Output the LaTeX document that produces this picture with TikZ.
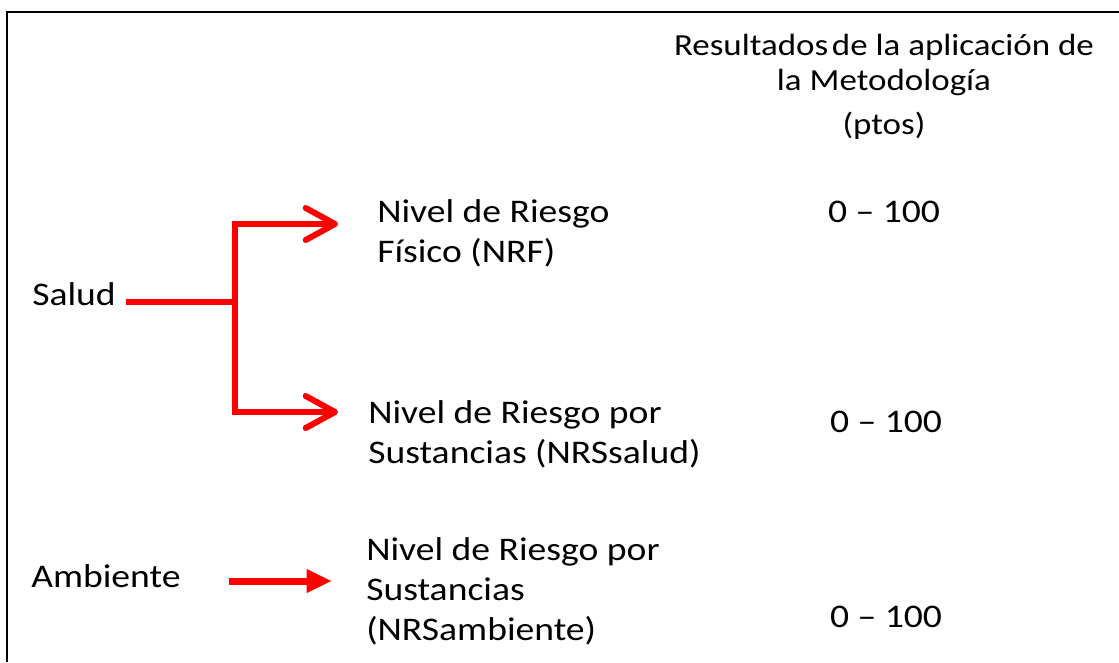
\documentclass[tikz,border=0pt]{standalone}
\usepackage{fontspec}
\setmainfont{Carlito}[FakeStretch=1.14]
\usetikzlibrary{arrows.meta}
\definecolor{arrowred}{RGB}{255,0,0}
\tikzset{
  frameline/.style={line width=2pt,black},
  lbl/.style={anchor=base west,inner sep=0pt,font=\fontsize{24.75}{30}\selectfont,align=left},
  score/.style={anchor=base,inner sep=0pt,font=\fontsize{24.75}{30}\selectfont},
  branch/.style={draw=arrowred,line width=4.5pt},
  barb/.style={-{Straight Barb[length=22pt,width=24pt,round]}},
  oneway/.style={draw=arrowred,line width=5.25pt,-{Triangle[length=19pt,width=16.5pt]}}
}
\begin{document}
\begin{tikzpicture}[x=0.75pt,y=-0.75pt]
  \useasboundingbox (0,0) rectangle (1119,662);
  \draw[frameline] (7,662) -- (7,12) -- (1119,12);
  % column header (base = last line)
  \node[anchor=base,inner sep=0pt,align=center,font=\fontsize{23}{26.5}\selectfont] (head) at (884,134)
    {Resultados\hspace{0.12em}de la aplicación de\\la Metodología\\[6pt](ptos)};
  % left side
  \node[lbl] (salud) at (32,305) {Salud};
  \node[lbl] (ambiente) at (31,587) {Ambiente};
  % risk levels
  \node[lbl] (nrf) at (377,262) {Nivel de Riesgo\\Físico (NRF)};
  \node[lbl] (nrss) at (368,463) {Nivel de Riesgo por\\Sustancias (NRSsalud)};
  \node[lbl] (nrsa) at (366,640) {Nivel de Riesgo por\\Sustancias\\(NRSambiente)};
  % scores
  \node[score] (pnrf) at (884,222) {0 -- 100};
  \node[score] (pnrss) at (886,432) {0 -- 100};
  \node[score] (pnrsa) at (886,627) {0 -- 100};
  % arrows
  \coordinate (split) at (235,302);
  \coordinate (nrf tip) at (338,224);
  \coordinate (nrss tip) at (338,412);
  \coordinate (nrsa tip) at (332,581);
  \draw[branch] ([xshift=7.5pt]split -| salud.east) -- (split);
  \draw[branch,barb] (split) |- (nrf tip);
  \draw[branch,barb] (split) |- (nrss tip);
  \draw[oneway,shorten <=36pt] (nrsa tip -| ambiente.east) -- (nrsa tip);
\end{tikzpicture}
\end{document}
